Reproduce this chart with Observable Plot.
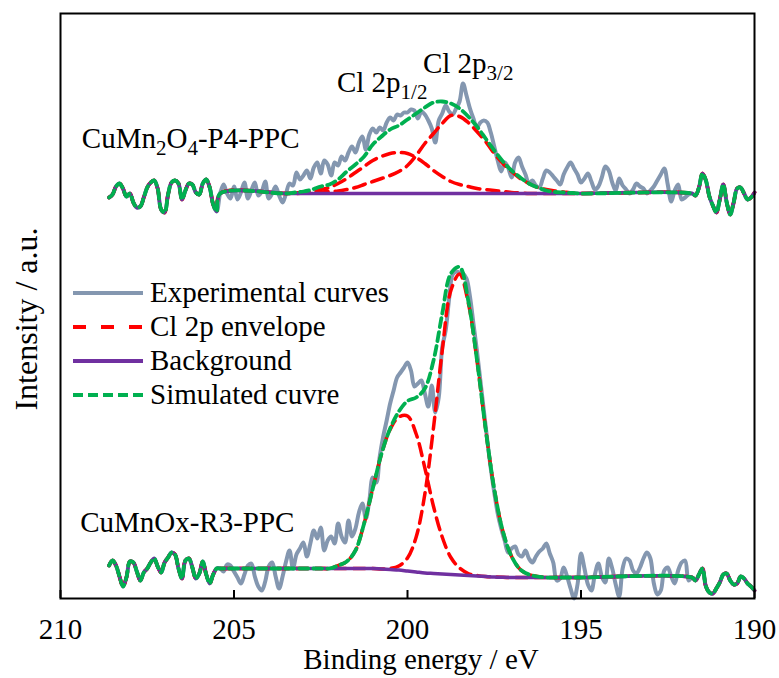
<!DOCTYPE html>
<html><head><meta charset="utf-8">
<script src="https://cdn.jsdelivr.net/npm/d3@7"></script>
<script src="https://cdn.jsdelivr.net/npm/@observablehq/plot@0.6"></script>
<style>
body{margin:0;background:#fff;}
#wrap{width:779px;height:678px;}
</style></head><body><div id="wrap"></div>
<script>
// ---------- data ----------
const xTicks = [210, 205, 200, 195, 190];
const expStart = 208.6, expStep = 0.1;   // experimental energy grid (eV)
// CuMn2O4-P4-PPC experimental intensity (a.u.), 208.6 -> 190.0 eV
const expP4 = [
  401,404,412,415,410,402,405,
  396,391,392,401,411,416,418,410,389,386,
  404,416,418,415,399,408,415,414,406,404,
  415,419,411,394,387,405,414,405,400,412,
  399,406,416,400,408,416,403,407,417,400,
  405,412,403,396,405,415,413,426,419,423,
  428,420,431,436,425,438,434,423,436,433,
  442,438,446,452,446,456,462,449,464,470,
  466,471,468,476,481,478,484,483,486,486,
  489,488,480,487,484,478,470,456,478,485,
  493,487,484,490,497,515,503,490,480,471,
  476,478,476,466,452,438,427,436,431,421,
  436,441,432,424,415,418,413,411,420,428,
  426,422,418,414,424,431,436,430,424,416,
  420,425,417,409,412,421,432,428,416,408,
  420,413,409,405,409,415,412,410,405,408,
  412,418,424,430,414,397,408,414,399,401,
  404,405,403,411,425,418,402,393,386,399,
  414,396,384,396,410,411,405,399,401,406
];
// CuMnOx-R3-PPC experimental intensity (a.u.), 208.6 -> 190.0 eV
const expR3 = [
  33,38,33,22,12,21,37,
  36,27,18,26,30,36,40,32,26,36,
  41,46,44,30,20,38,40,31,20,25,
  37,24,15,24,30,30,27,34,33,27,
  21,15,24,33,35,22,12,8,17,32,
  36,22,10,22,37,48,30,44,50,56,
  42,55,68,60,71,48,58,62,55,75,
  62,56,78,62,70,86,95,80,98,121,
  116,142,162,178,195,208,221,226,231,236,
  228,212,215,218,205,192,213,186,201,251,
  268,300,324,327,326,325,320,302,275,248,
  218,188,158,130,106,85,70,58,46,50,
  52,44,42,48,40,36,42,47,50,55,
  45,36,18,20,31,22,10,0,14,45,
  30,14,8,24,35,22,16,40,30,14,
  2,30,40,38,28,25,31,40,46,40,
  15,4,8,28,31,22,15,28,36,38,
  18,21,18,24,30,12,6,5,10,16,
  24,25,18,14,15,22,20,15,12,8
];
// energies of the fitted-region samples (eV)
const fitE = [205.4,203.5,203.25,203.0,202.75,202.5,202.25,202.0,201.75,201.5,201.25,201.0,
  200.75,200.5,200.25,200.0,199.75,199.5,199.25,199.0,198.75,198.5,198.25,198.0,197.75,197.5,
  197.25,197.0,196.75,196.5,196.25,196.0,195.75,195.5,195.25,195.0,191.8];
// CuMn2O4-P4-PPC fitted curves
const bgP4   = [405,405,405,405,405,405,405,405,405,405,405,405,405,405,405,405,405,405,405,405,405,405,405,405,405,405,405,405,405,405,405,405,405,405,405,405,405];
const env1P4 = [405,405,405.5,406,407,409,411,415,420,426,432,438,442,445,446,445,441,435,428,422,417,414,412,410,409,408,407,406,405.5,405,405,405,405,405,405,405,405];
const env2P4 = [405,405,405,405.5,406,406.5,407,407.5,409,411,414,417,420,423,427,433,443,455,465,475,483,482,476,467,457,445,435,427,420,415,411,409,407.5,406.5,405.5,405,405];
const simP4  = [405,405,406,407,409,412,414,419,427,434,442,454,462,469,473,479,485,491,496,497,495,490,482,472,460,448,437,428,421,415,411,408,406.5,406,405.5,405,405];
// CuMnOx-R3-PPC fitted curves
const bgR3   = [30,30,30,30,30,30,30,30,30,30,30,30,29.5,29,28.5,27.5,26.5,25.5,25,24.5,24,23.5,23,22.5,22,21.5,21.2,21,21,21,21,21,21,21,21,21,21];
const env1R3 = [30,30,30,30,30,30,30,33,37,48,75,110,144.5,169,181.5,182.5,164.5,130.5,92,61.5,41,30.5,25,23,22,21.5,21.2,21,21,21,21,21,21,21,21,21,21];
const env2R3 = [30,30,30,30,30,30,30,30,30,30,30,30,29.5,30,32.5,40.5,61.5,104.5,171,247.5,308,324.5,296,238.5,170,109.5,67,42,29,24,22,21,21,21,21,21,21];
const simR3  = [30,30,30,30,30,30,30,33,37,48,75,110,144.5,170,187,197.5,201,210,238,284.5,325,331.5,298,239,170,109.5,67,42,29,24,22,21,21,21,21,21,21];

const legendLabels = ["Experimental curves", "Cl 2p envelope", "Background", "Simulated cuvre"];
const sampleLabels = [
  {E: 209.37, v: 450, parts: [["CuMn"],["2",1],["O"],["4",1],["-P4-PPC"]]},
  {E: 209.42, v: 66,  parts: [["CuMnOx-R3-PPC"]]},
  {E: 202.02, v: 506, parts: [["Cl 2p"],["1/2",1]]},
  {E: 199.54, v: 525, parts: [["Cl 2p"],["3/2",1]]}
];

// ---------- build ----------
const FONT = '"Liberation Serif","Times New Roman",serif';
const FS = 29;
const COL = {exp: "#8497b0", env: "#ff0000", bg: "#7030a0", sim: "#00b050"};
const expE = expP4.map((_, i) => +(expStart - i * expStep).toFixed(2));
const rows = (E, V) => E.map((e, i) => ({E: e, v: V[i]}));
const nL = 32, nR = 169; // fitted curves follow the data outside the fitted window
function fitted(expArr, fitArr) {
  return [
    ...rows(expE.slice(0, nL), expArr.slice(0, nL)),
    ...rows(fitE, fitArr),
    ...rows(expE.slice(nR), expArr.slice(nR))
  ];
}
const lineOpts = {x: "E", y: "v", curve: "catmull-rom", strokeLinejoin: "round"};
const spectra = [[expP4, env1P4, env2P4, bgP4, simP4], [expR3, env1R3, env2R3, bgR3, simR3]];
const marks = [];
for (const [ex] of spectra) {
  marks.push(Plot.line(rows(expE, ex), {...lineOpts, stroke: COL.exp, strokeWidth: 4}));
}
for (const [ex, env1, env2, bg, sim] of spectra) {
  marks.push(Plot.line(fitted(ex, env1), {...lineOpts, stroke: COL.env, strokeWidth: 3.5, strokeDasharray: "12,7"}));
  marks.push(Plot.line(fitted(ex, env2), {...lineOpts, stroke: COL.env, strokeWidth: 3.5, strokeDasharray: "12,7"}));
  marks.push(Plot.line(fitted(ex, bg), {...lineOpts, stroke: COL.bg, strokeWidth: 3.5}));
  marks.push(Plot.line(fitted(ex, sim), {...lineOpts, stroke: COL.sim, strokeWidth: 3.8, strokeDasharray: "9,5"}));
}

const plot = Plot.plot({
  width: 779, height: 678,
  marginLeft: 60, marginRight: 25, marginTop: 13, marginBottom: 80,
  x: {domain: [210, 190]},
  y: {domain: [0, 585], axis: null},
  style: {fontFamily: FONT, fontSize: FS + "px", color: "black", background: "white", overflow: "visible"},
  marks: [
    ...marks,
    Plot.frame({stroke: "black", strokeWidth: 2}),
    Plot.ruleX(xTicks, {x: d => d, stroke: "black", strokeWidth: 2, insetTop: 577}),
    Plot.axisX({ticks: xTicks, tickSize: 0, tickPadding: 20, fontSize: FS, label: null, tickFormat: d => String(d)})
  ]
});
document.getElementById("wrap").appendChild(plot);

const svg = d3.select(plot);
const sx = plot.scale("x"), sy = plot.scale("y");
const txt = (x, y, size) => svg.append("text").attr("x", x).attr("y", y)
  .attr("font-family", FONT).attr("font-size", size).attr("fill", "black").attr("text-anchor", "start");

// sample / peak labels with subscripts
for (const lab of sampleLabels) {
  const t = txt(sx.apply(lab.E), sy.apply(lab.v), FS);
  let shifted = false;
  for (const [s, sub] of lab.parts) {
    const ts = t.append("tspan").text(s);
    if (sub && !shifted) { ts.attr("dy", 7).attr("font-size", 21); shifted = true; }
    else if (!sub && shifted) { ts.attr("dy", -7); shifted = false; }
    else if (sub) ts.attr("font-size", 21);
  }
}

// legend
const legendStyles = [
  {stroke: COL.exp, dash: null, w: 4},
  {stroke: COL.env, dash: "13,15", w: 4},
  {stroke: COL.bg, dash: null, w: 4},
  {stroke: COL.sim, dash: "10,5", w: 4}
];
const legY = [293, 327, 361, 395];
legendLabels.forEach((name, i) => {
  const st = legendStyles[i];
  const ln = svg.append("line").attr("x1", 73).attr("x2", 143).attr("y1", legY[i]).attr("y2", legY[i])
    .attr("stroke", st.stroke).attr("stroke-width", st.w);
  if (st.dash) ln.attr("stroke-dasharray", st.dash);
  txt(150, legY[i] + 9, FS).text(name);
});

// axis titles
txt(421, 669, FS).attr("text-anchor", "middle").text("Binding energy / eV");
svg.append("text").attr("transform", "translate(37,319) rotate(-90)").attr("text-anchor", "middle")
  .attr("font-family", FONT).attr("font-size", 32).attr("fill", "black").text("Intensity / a.u.");
</script></body></html>
